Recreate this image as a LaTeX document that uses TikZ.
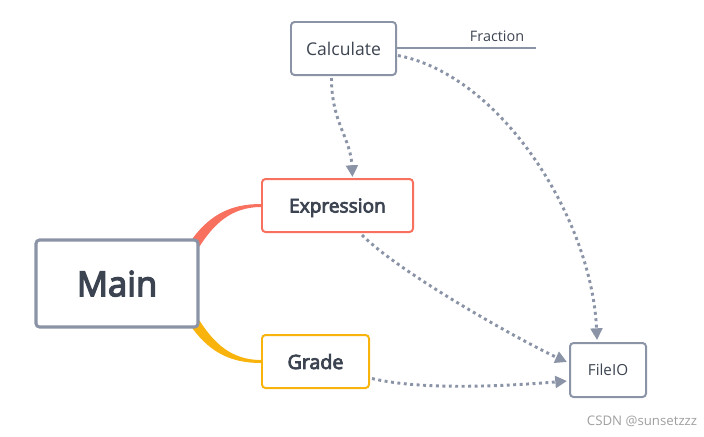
\documentclass[tikz,border=0pt]{standalone}
\usepackage{fontspec}
\setmainfont{Open Sans}
\newfontfamily\semibold{Open Sans}[FakeBold=4]
\usetikzlibrary{calc,arrows.meta,backgrounds}

\definecolor{linegray}{HTML}{8A94A6}
\definecolor{textgray}{HTML}{3D4451}
\definecolor{exprred}{HTML}{F8705E}
\definecolor{gradeyellow}{HTML}{F8B40C}

\tikzset{
  topic/.style={draw=linegray, line width=1.7pt, rounded corners=3pt, fill=white,
    text=textgray, inner sep=0pt, text depth=0pt, minimum height=1.59cm},
  deparrow/.style={draw=linegray, line width=2.5pt, dash pattern=on 2.5pt off 3pt,
    -{Triangle[length=10pt,width=10pt]}},
}

\begin{document}
\begin{tikzpicture}[x=0.03cm,y=-0.03cm]
  \useasboundingbox (0,0) rectangle (704,436);

  % Topics
  \node[topic, line width=2.6pt, minimum width=4.86cm, minimum height=2.61cm,
    font=\fontsize{29.5}{34}\semibold] (main) at (117,283.5) {Main};
  \node[topic, minimum width=3.15cm, font=\fontsize{15}{18}\selectfont] (calc) at (343.5,48.5) {Calculate};
  \node[topic, draw=exprred, minimum width=4.53cm, font=\fontsize{16.3}{19}\semibold] (expr) at (337.5,205.5) {Expression};
  \node[topic, draw=gradeyellow, minimum width=3.21cm, font=\fontsize{16.8}{19}\semibold] (grade) at (315.5,361.5) {Grade};
  \node[topic, minimum width=2.28cm, minimum height=1.62cm, font=\fontsize{13}{16}\selectfont] (fileio) at (608,370) {FileIO};

  % Branches
  \begin{pgfonlayer}{background}
    \fill[exprred] ($(main.north east)+(-7,0)$) .. controls +(18,-24) and +(-30,0) .. ($(expr.west)+(0,-1.5)$)
      -- ($(expr.west)+(0,1.5)$) .. controls +(-30,0) and +(14,-22) .. ($(main.north east)+(0,8)$) -- cycle;
    \fill[gradeyellow] ($(main.south east)+(-7,0)$) .. controls +(18,24) and +(-30,0) .. ($(grade.west)+(0,1.5)$)
      -- ($(grade.west)+(0,-1.5)$) .. controls +(-30,0) and +(14,22) .. ($(main.south east)+(0,-8)$) -- cycle;
  \end{pgfonlayer}

  % Label line
  \coordinate (frac) at (536,48);
  \draw[linegray, line width=1.7pt] (calc.east |- frac) -- (frac)
    node[pos=0.72, above=1pt, text=textgray, font=\fontsize{12.3}{14}\selectfont] (fraclabel) {Fraction};

  % Dependencies
  \draw[deparrow] ($(calc.south)+(-12,2)$) .. controls +(0,45) and +(-2,-40) .. ($(expr.north)+(15,-1)$);
  \draw[deparrow] ($(calc.east)+(1,7)$) .. controls +(104,20) and +(-5,-120) .. ($(fileio.north)+(-11,-2)$);
  \draw[deparrow] ($(expr.south)+(24.5,2)$) .. controls +(40,40) and +(-40,-18) .. ($(fileio.west)+(-2,-8)$);
  \draw[deparrow] ($(grade.east)+(2,17)$) .. controls +(50,12) and +(-60,5) .. ($(fileio.west)+(-2,11)$);

  % Watermark
  \node[text=gray!75, font=\fontsize{11.3}{13}\selectfont] (mark) at (642,421) {CSDN @sunsetzzz};
\end{tikzpicture}
\end{document}
